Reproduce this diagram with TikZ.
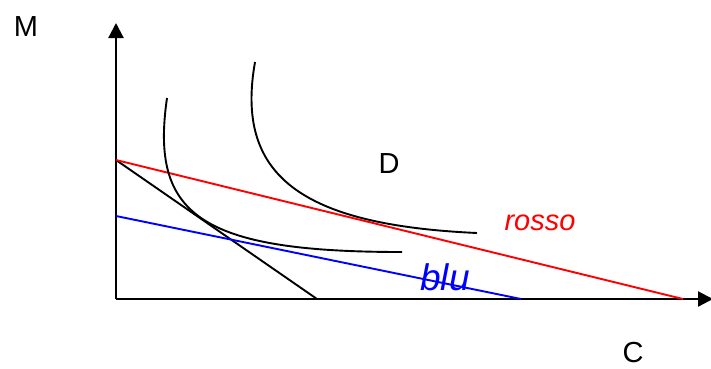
\documentclass[tikz,border=0pt]{standalone}
\usepackage{fontspec}
\setmainfont{Liberation Sans}
\usetikzlibrary{arrows.meta}
\begin{document}
\begin{tikzpicture}[x=1pt,y=-1pt,
  axis/.style={line width=2.2pt,-{Triangle[width=15pt,length=15pt]}},
  curve/.style={line width=1.9pt,black},
  lbl/.style={anchor=base,inner sep=0pt,font=\fontsize{29}{30}\selectfont}]
\useasboundingbox (0,0) rectangle (711,368);
\coordinate (O) at (116,299);
\coordinate (ytop) at (116,23);
\coordinate (xend) at (713,299);
\coordinate (A) at (116,160);
\coordinate (B) at (116,216);
\coordinate (Bk) at (317,299);
\coordinate (Rd) at (683,299);
\coordinate (Bl) at (521,299);
\draw[axis] (O) -- (ytop);
\draw[axis] (O) -- (xend);
\draw[curve] (A) -- (Bk);
\draw[line width=1.9pt,red] (A) -- (Rd);
\draw[line width=1.9pt,blue] (B) -- (Bl);
\draw[curve] (167,98) .. controls (150,215) and (200,252) .. (402,252);
\draw[curve] (255,62) .. controls (235,175) and (300,225) .. (477,233);
\node[lbl] (M) at (26,36) {M};
\node[lbl] (D) at (389,173) {D};
\node[lbl] (C) at (633,362) {C};
\node[lbl,text=red] (rosso) at (540,230) {\itshape rosso};
\node[lbl,text=blue,font=\fontsize{37}{38}\selectfont] (blu) at (445,290) {\itshape blu};
\end{tikzpicture}
\end{document}
